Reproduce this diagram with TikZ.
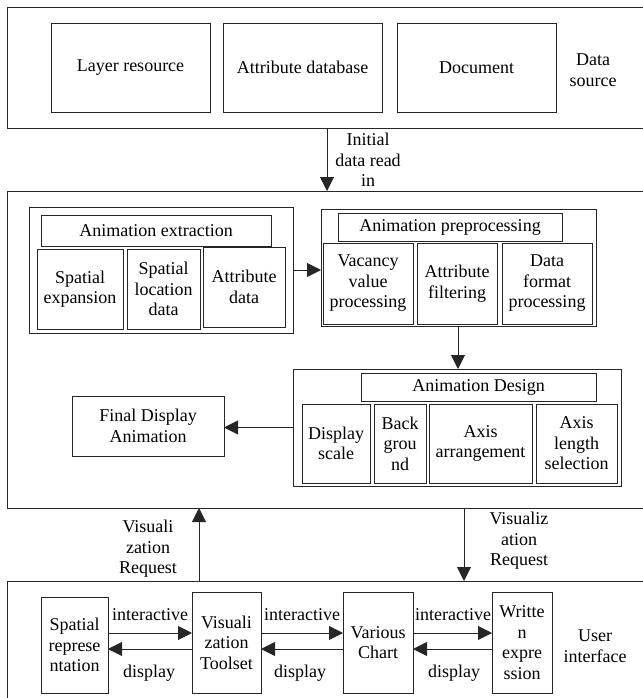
\documentclass[tikz,border=0pt]{standalone}
\usepackage{fontspec}
\setmainfont{Liberation Serif}
\usetikzlibrary{arrows.meta}

% rectangle node from its corners: [options]{name}{x1}{y1}{x2}{y2}{text}
\newcommand\rectnode[7][]{%
  \pgfmathsetmacro\rcx{(#3+#5)/2}%
  \pgfmathsetmacro\rcy{(#4+#6)/2}%
  \pgfmathsetmacro\rcw{#5-#3}%
  \pgfmathsetmacro\rch{#6-#4}%
  \node[box,minimum width=\rcw pt,minimum height=\rch pt,#1] (#2) at (\rcx,\rcy) {#7};%
}

\begin{document}
\begin{tikzpicture}[x=1pt,y=-1pt,
  every node/.style={font=\fontsize{18}{20.5}\selectfont, align=center, inner sep=0pt, outer sep=0pt},
  box/.style={draw=black!85, line width=0.9pt},
  arr/.style={-{Triangle[length=14pt,width=14pt]}, line width=0.9pt, draw=black!85},
  lbl/.style={anchor=center},
]
\useasboundingbox (0,0) rectangle (642,698);

% ---------- data source layer ----------
\rectnode{src}{7}{7}{648}{128}{}
\rectnode{lay}{51}{23}{210}{112}{Layer resource}
\rectnode{adb}{223}{23}{382}{112}{Attribute database}
\rectnode{doc}{397}{23}{556}{112}{Document}
\node[lbl] (srclbl) at (593,70) {Data\\source};

% ---------- processing layer ----------
\rectnode{mid}{7}{191}{648}{508}{}

\rectnode{ext}{29}{207}{293}{333}{}
\rectnode{extt}{41}{215}{271}{246}{Animation extraction}
\rectnode{spx}{37}{249}{123}{329}{Spatial\\expansion}
\rectnode{spl}{127}{249}{200}{329}{Spatial\\location\\data}
\rectnode{atd}{203}{247}{285}{327}{Attribute\\data}

\rectnode{pre}{321}{209}{596}{326}{}
\rectnode{pret}{338}{213}{562}{241}{Animation preprocessing}
\rectnode{vac}{323}{243}{413}{324}{Vacancy\\value\\processing}
\rectnode{afl}{417}{243}{497}{324}{Attribute\\filtering}
\rectnode{dfp}{502}{243}{592}{324}{Data\\format\\processing}

\rectnode{des}{293}{369}{621}{486}{}
\rectnode{dest}{361}{373}{596}{401}{Animation Design}
\rectnode{dsc}{302}{404}{370}{483}{Display\\scale}
\rectnode{bgd}{374}{404}{426}{483}{Back\\grou\\nd}
\rectnode{axa}{429}{404}{532}{483}{Axis\\arrangement}
\rectnode{axl}{536}{404}{617}{483}{Axis\\length\\selection}

\rectnode{fin}{72}{396}{224}{456}{Final Display\\Animation}

% ---------- user interface layer ----------
\rectnode{ui}{7}{581}{648}{700}{}
\rectnode{spr}{41}{597}{108}{693}{Spatial\\represe\\ntation}
\rectnode{vts}{192}{592}{261}{693}{Visuali\\zation\\Toolset}
\rectnode{vch}{343}{592}{413}{693}{Various\\Chart}
\rectnode{wex}{492}{592}{552}{693}{Writte\\n\\expre\\ssion}
\node[lbl] (uilbl) at (595,646) {User\\interface};

% ---------- connectors ----------
\coordinate (xread) at (327,0);
\coordinate (xdown) at (458,0);
\coordinate (xreqa) at (199,0);
\coordinate (xreqb) at (464,0);
\coordinate (yint) at (0,633);
\coordinate (ydsp) at (0,649);

\draw[arr] (xread |- src.south) -- (xread |- mid.north);
\node[lbl] (readlbl) at (368,160) {Initial\\data read\\in};

\draw[arr] (ext.east) -- (ext.east -| pre.west);
\draw[arr] (xdown |- pre.south) -- (xdown |- des.north);
\draw[arr] (des.west) -- (des.west -| fin.east);

\draw[arr] (xreqa |- ui.north) -- (xreqa |- mid.south);
\node[lbl] (reqalbl) at (148,549) {Visuali\\zation\\Request};
\draw[arr] (xreqb |- mid.south) -- (xreqb |- ui.north);
\node[lbl] (reqblbl) at (519,541) {Visualiz\\ation\\Request};

\draw[arr] (spr.east |- yint) -- (vts.west |- yint);
\draw[arr] (vts.west |- ydsp) -- (spr.east |- ydsp);
\draw[arr] (vts.east |- yint) -- (vch.west |- yint);
\draw[arr] (vch.west |- ydsp) -- (vts.east |- ydsp);
\draw[arr] (vch.east |- yint) -- (wex.west |- yint);
\draw[arr] (wex.west |- ydsp) -- (vch.east |- ydsp);

\node[lbl] (int1) at (150,615) {interactive};
\node[lbl] (dsp1) at (149,673) {display};
\node[lbl] (int2) at (302,615) {interactive};
\node[lbl] (dsp2) at (300,673) {display};
\node[lbl] (int3) at (453,615) {interactive};
\node[lbl] (dsp3) at (454,673) {display};
\end{tikzpicture}
\end{document}
